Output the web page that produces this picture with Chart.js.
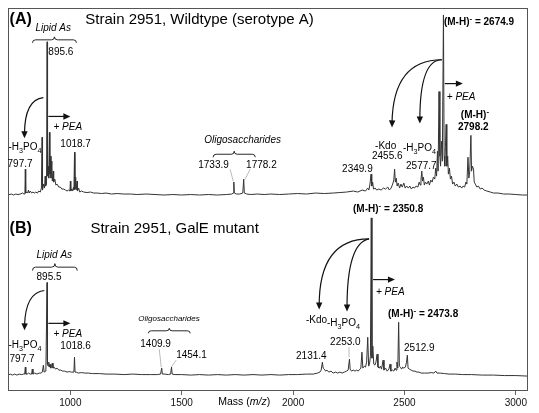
<!DOCTYPE html>
<html>
<head>
<meta charset="utf-8">
<script src="https://cdn.jsdelivr.net/npm/chart.js@4.4.1/dist/chart.umd.min.js"></script>
<style>
  html, body { margin: 0; padding: 0; background: #fff; }
</style>
</head>
<body>
<canvas id="spectro" width="539" height="413"></canvas>
<script>
// ===== datos leidos del espectro (masa m/z, intensidad relativa) =====
// panel A: wildtype
const massA = [720,735,745,755,765,775,785,792,796,797.7,799.5,805,808,812,815,820,826,832,838,845,852,858,865,870,873,875,880,884,887,889,893,895.6,897.5,901,903,906,908,911,913,917,919,923,925,930,935,940,948,955,962,970,978,985,992,998,1000,1002,1006,1010,1014,1016,1018.7,1020.5,1024,1026,1030,1032,1037,1042,1050,1060,1075,1090,1105,1120,1140,1160,1185,1210,1240,1270,1300,1340,1380,1420,1460,1500,1540,1580,1620,1660,1700,1725,1731,1733.9,1736,1745,1760,1774,1778.2,1781,1792,1810,1840,1870,1900,1940,1980,2020,2060,2100,2140,2180,2210,2240,2270,2290,2310,2325,2335,2340,2345,2349.9,2353,2357,2361,2368,2375,2385,2395,2405,2415,2425,2432,2440,2447,2452,2455.6,2459,2463,2467,2472,2478,2484,2490,2497,2503,2510,2517,2524,2531,2538,2545,2552,2560,2566,2571,2574,2577.7,2581,2585,2589,2594,2600,2607,2612,2618,2624,2630,2636,2640,2644,2648,2651,2655,2659,2662,2666,2670,2674.9,2678,2681,2684,2687,2690,2694,2697,2702,2706,2711,2716,2722,2728,2735,2742,2750,2757,2763,2770,2776,2780,2785,2789,2793,2798.2,2801,2805,2810,2813,2818,2825,2832,2840,2848,2858,2870,2885,2900,2920,2945,2970,3000,3030,3050];
const intA = [1,2,1,2,1.5,2,3,2,3,27,3,4,3,6,3,5,3,4,3,4,3,5,4,8,59,6,12,8,20,10,12,155,20,30,18,64,22,40,18,35,15,25,14,17,11,12,9,9,7,7,6,5,6,5,15,5,7,5,9,6,44,7,19,6,15,5,8,4,5,4,3.5,4,3,3,2.5,3,2,2.5,2,2,1.5,2,1.5,1,1.5,1,1.5,1,1.5,1,1.5,2,3,14,3,2,2,3,17,3,2,1.5,2,1.5,2,1.5,2,2.5,2,3,2.5,3,3.5,4,5,4,6,5,8,6,12,22,10,14,7,8,6,7,6,8,7,9,6,8,12,16,27,14,18,10,13,8,12,9,13,8,10,8,10,7,9,8,10,9,14,11,16,25,15,19,11,14,12,15,11,16,14,19,17,28,20,45,25,105,40,30,55,35,182,40,30,50,72,30,40,22,28,17,20,12,14,10,12,9,10,8,10,9,14,12,39,18,25,61,25,30,27,14,12,9,10,7,8,6,5,4,3,3,2,2,1.5,1,1];

// panel B: mutante GalE
const massB = [720,730,740,750,760,770,780,790,795,797.7,800,806,812,820,826,829,832,840,850,860,868,874,879,882,886,890,895.5,897,900,903,906,909,912,916,919,922,927,933,940,948,957,965,975,985,995,1005,1012,1016,1018.6,1021,1026,1035,1050,1065,1080,1100,1130,1160,1200,1240,1280,1320,1360,1390,1405,1409.9,1413,1425,1440,1450,1454.1,1457,1470,1500,1540,1580,1620,1660,1700,1740,1780,1820,1860,1900,1940,1980,2020,2060,2090,2110,2120,2126,2131.4,2135,2140,2146,2152,2160,2170,2180,2190,2200,2210,2220,2230,2240,2247,2253.0,2256,2262,2270,2278,2285,2292,2300,2304,2309,2313,2320,2325,2330,2335,2339,2343,2347,2350.8,2354,2358,2362,2367,2372,2377,2381,2387,2392,2397,2404,2408,2415,2422,2430,2435,2439,2446,2452,2458,2462,2466,2470,2473.8,2477,2482,2487,2492,2497,2504,2509,2512.9,2516,2522,2530,2538,2547,2556,2565,2575,2590,2605,2620,2632,2640,2646,2660,2680,2700,2730,2760,2800,2850,2900,2950,3000,3050];
const intB = [1,2,1,2,1,2,1.5,2,2,9,2,2,3,2,2,7,2,3,2,3,3,4,11,4,4,5,94,12,10,14,9,12,8,10,13,8,9,7,8,6,6,5,5,4,4.5,4,4,5,19,4,4,3,3.5,3,3,2.5,2.5,2,2,1.5,2,1.5,1.5,1.5,2,8,2,2,1.5,2,9,2,1.5,1.5,1,1.5,1,1.5,1,1.5,1,1.5,1,1.5,1,1.5,1.5,2,2,3,4,6,14,8,7,5,6,4,5,3,4,3,4,3,4,5,6,17,7,5,6,5,6,5,7,8,24,8,10,9,14,39,10,12,20,159,18,30,12,11,14,22,9,8,10,7,16,6,8,5,7,12,5,6,5,8,6,14,8,54,10,9,7,9,8,9,14,21,8,7,6,5,5,4,4,3,3,3,3.5,3,5,3,3,2.5,2,2,1.5,1.5,1,1,0.5,0.5,0];

const tickMasses = [1000, 1500, 2000, 2500, 3000];

// ===== anotaciones (posiciones en unidades de los ejes) =====
const FUENTE = '"Liberation Sans", Arial, Helvetica, sans-serif';

const textosA = [
    { m: 727, v: 173, p: ['(A)'], s: 16, w: 'bold' },
    { m: 1067, v: 173, p: ['Strain 2951, Wildtype (serotype A)'], s: 15 },
    { m: 843, v: 166, p: ['Lipid As'], s: 10, i: true },
    { m: 901, v: 142, p: ['895.6'], s: 10 },
    { m: 924, v: 66, p: ['+ PEA'], s: 10, i: true },
    { m: 722, v: 46, p: ['-H', ['3', 'sub'], 'PO', ['4', 'sub']], s: 10 },
    { m: 718, v: 29, p: ['797.7'], s: 10 },
    { m: 955, v: 49, p: ['1018.7'], s: 10 },
    { m: 1601, v: 53, p: ['Oligosaccharides'], s: 10, i: true },
    { m: 1574, v: 28, p: ['1733.9'], s: 10 },
    { m: 1789, v: 28, p: ['1778.2'], s: 10 },
    { m: 2220, v: 24, p: ['2349.9'], s: 10 },
    { m: 2368, v: 47, p: ['-Kdo'], s: 10 },
    { m: 2354, v: 37, p: ['2455.6'], s: 10 },
    { m: 2493, v: 45, p: ['-H', ['3', 'sub'], 'PO', ['4', 'sub']], s: 10 },
    { m: 2507, v: 27, p: ['2577.7'], s: 10 },
    { m: 2690, v: 97, p: ['+ PEA'], s: 10, i: true },
    { m: 2753, v: 78, p: ['(M-H)', ['-', 'sup']], s: 10, w: 'bold' },
    { m: 2740, v: 66, p: ['2798.2'], s: 10, w: 'bold' },
    { m: 2677, v: 172, p: ['(M-H)', ['-', 'sup'], ' = 2674.9'], s: 10, w: 'bold' }
];

const textosB = [
    { m: 727, v: 144, p: ['(B)'], s: 16, w: 'bold' },
    { m: 1090, v: 144, p: ['Strain 2951, GalE mutant'], s: 15 },
    { m: 848, v: 119, p: ['Lipid As'], s: 10, i: true },
    { m: 848, v: 97, p: ['895.5'], s: 10 },
    { m: 924, v: 39, p: ['+ PEA'], s: 10, i: true },
    { m: 722, v: 28, p: ['-H', ['3', 'sub'], 'PO', ['4', 'sub']], s: 10 },
    { m: 727, v: 14, p: ['797.7'], s: 10 },
    { m: 955, v: 27, p: ['1018.6'], s: 10 },
    { m: 1305, v: 55, p: ['Oligosaccharides'], s: 8, i: true },
    { m: 1314, v: 29, p: ['1409.9'], s: 10 },
    { m: 1475, v: 18, p: ['1454.1'], s: 10 },
    { m: 2013, v: 17, p: ['2131.4'], s: 10 },
    { m: 2166, v: 31, p: ['2253.0'], s: 10 },
    { m: 2058, v: 53, p: ['-Kdo'], s: 10 },
    { m: 2152, v: 50, p: ['-H', ['3', 'sub'], 'PO', ['4', 'sub']], s: 10 },
    { m: 2372, v: 82, p: ['+ PEA'], s: 10, i: true },
    { m: 2426, v: 59, p: ['(M-H)', ['-', 'sup'], ' = 2473.8'], s: 10, w: 'bold' },
    { m: 2498, v: 25, p: ['2512.9'], s: 10 },
    { m: 2269, v: 165, p: ['(M-H)', ['-', 'sup'], ' = 2350.8'], s: 10, w: 'bold' }
];

// flechas curvas: inicio, control, fin
const curvasA = [
    [879, 99, 794, 97, 794, 58],
    [2668, 137, 2448, 137, 2444, 69],
    [2668, 137, 2569, 137, 2569, 73]
];
const curvasB = [
    [883, 86, 798, 84, 794, 46],
    [2341, 138, 2117, 138, 2117, 67],
    [2341, 138, 2242, 134, 2242, 65]
];
// flechas rectas
const rectasA = [[901, 80, 1000, 80], [2681, 113, 2762, 113]];
const rectasB = [[901, 53, 1000, 53], [2359, 97, 2457, 97]];
// llaves: m1, m2, extremo, punta
const llavesA = [[830, 1027, 154, 160], [1641, 1830, 39, 45]];
const llavesB = [[830, 1031, 106, 113], [1350, 1538, 43, 48]];
// lineas guia grises
const guiasA = [[1717, 27, 1731, 15], [1807, 27, 1785, 17]];
const guiasB = [[1399, 27, 1408, 9], [1475, 16, 1453, 9], [2251, 29, 2251, 19]];

const textoRico = (ctx, x, y, partes, size, weight, italic) => {
    let cx = x;
    for (const p of partes) {
        const t = typeof p === 'string' ? p : p[0];
        const modo = typeof p === 'string' ? '' : p[1];
        let fs = size, dy = 0, cursiva = italic;
        if (modo === 'sub') { fs = size * 0.72; dy = size * 0.28; }
        if (modo === 'sup') { fs = size * 0.8; dy = -size * 0.42; }
        if (modo === 'i') cursiva = true;
        ctx.font = `${cursiva ? 'italic ' : ''}${weight || 'normal'} ${fs}px ${FUENTE}`;
        ctx.fillText(t, cx, y + dy);
        cx += ctx.measureText(t).width;
    }
};

const punta = (ctx, x0, y0, x1, y1) => {
    const ang = Math.atan2(y1 - y0, x1 - x0);
    const L = 7, W = 3.2;
    ctx.beginPath();
    ctx.moveTo(x1, y1);
    ctx.lineTo(x1 - L * Math.cos(ang) + W * Math.sin(ang), y1 - L * Math.sin(ang) - W * Math.cos(ang));
    ctx.lineTo(x1 - L * Math.cos(ang) - W * Math.sin(ang), y1 - L * Math.sin(ang) + W * Math.cos(ang));
    ctx.closePath();
    ctx.fill();
};

const anotaciones = {
    id: 'anotaciones',
    afterDatasetsDraw(chart) {
        const ctx = chart.ctx;
        const sx = chart.scales.x;
        const area = chart.chartArea;
        const paneles = [
            [chart.scales.yA, textosA, curvasA, rectasA, llavesA, guiasA],
            [chart.scales.yB, textosB, curvasB, rectasB, llavesB, guiasB]
        ];
        ctx.save();
        // marco
        ctx.strokeStyle = '#555';
        ctx.lineWidth = 1;
        ctx.strokeRect(Math.round(area.left) + 0.5, Math.round(area.top) + 0.5,
            Math.round(area.right - area.left), Math.round(area.bottom - area.top));

        for (const [sy, textos, curvas, rectas, llaves, guias] of paneles) {
            const X = m => sx.getPixelForValue(m);
            const Y = v => sy.getPixelForValue(v);

            ctx.strokeStyle = '#aaa';
            ctx.lineWidth = 0.8;
            guias.forEach(g => {
                ctx.beginPath();
                ctx.moveTo(X(g[0]), Y(g[1]));
                ctx.lineTo(X(g[2]), Y(g[3]));
                ctx.stroke();
            });

            ctx.strokeStyle = '#111';
            ctx.fillStyle = '#111';
            ctx.lineWidth = 1.2;
            curvas.forEach(c => {
                ctx.beginPath();
                ctx.moveTo(X(c[0]), Y(c[1]));
                ctx.quadraticCurveTo(X(c[2]), Y(c[3]), X(c[4]), Y(c[5]) - 4);
                ctx.stroke();
                punta(ctx, X(c[2]), Y(c[3]), X(c[4]), Y(c[5]));
            });
            rectas.forEach(r => {
                ctx.beginPath();
                ctx.moveTo(X(r[0]), Y(r[1]));
                ctx.lineTo(X(r[2]) - 4, Y(r[3]));
                ctx.stroke();
                punta(ctx, X(r[0]), Y(r[1]), X(r[2]), Y(r[3]));
            });

            ctx.lineWidth = 0.9;
            llaves.forEach(b => {
                const x1 = X(b[0]), x2 = X(b[1]), ye = Y(b[2]), yt = Y(b[3]);
                const xm = (x1 + x2) / 2, ym = (ye + yt) / 2;
                ctx.beginPath();
                ctx.moveTo(x1, ye);
                ctx.quadraticCurveTo(x1, ym, x1 + 3, ym);
                ctx.lineTo(xm - 3, ym);
                ctx.quadraticCurveTo(xm, ym, xm, yt);
                ctx.quadraticCurveTo(xm, ym, xm + 3, ym);
                ctx.lineTo(x2 - 3, ym);
                ctx.quadraticCurveTo(x2, ym, x2, ye);
                ctx.stroke();
            });

            ctx.fillStyle = '#000';
            ctx.textAlign = 'left';
            ctx.textBaseline = 'alphabetic';
            textos.forEach(t => textoRico(ctx, X(t.m), Y(t.v), t.p, t.s, t.w, t.i));
        }

        // titulo del eje x
        textoRico(ctx, sx.getPixelForValue(1664), sx.top + 15, ['Mass (', ['m/z', 'i'], ')'], 10.5);
        ctx.restore();
    }
};

const puntos = (masas, ints) => masas.map((m, i) => ({ x: m, y: ints[i] }));

const chart = new Chart(document.getElementById('spectro'), {
    type: 'line',
    data: {
        datasets: [{
            label: 'Wildtype',
            data: puntos(massA, intA),
            yAxisID: 'yA',
            borderColor: '#333',
            borderWidth: 1,
            pointRadius: 0,
            tension: 0
        }, {
            label: 'GalE mutant',
            data: puntos(massB, intB),
            yAxisID: 'yB',
            borderColor: '#333',
            borderWidth: 1,
            pointRadius: 0,
            tension: 0
        }]
    },
    options: {
        responsive: false,
        animation: false,
        devicePixelRatio: 1,
        layout: { padding: { left: 8, right: 12, top: 8, bottom: 2 } },
        plugins: { legend: { display: false }, tooltip: { enabled: false } },
        scales: {
            x: {
                type: 'linear',
                position: 'bottom',
                min: 720,
                max: 3050,
                afterBuildTicks: (s) => { s.ticks = tickMasses.map(v => ({ value: v })); },
                ticks: {
                    callback: (v) => String(v),
                    color: '#111',
                    font: { family: FUENTE, size: 10 },
                    padding: 2,
                    maxRotation: 0,
                    autoSkip: false
                },
                grid: { drawOnChartArea: false, tickLength: 5, color: '#666' },
                border: { display: false }
            },
            // los ejes izquierdos se apilan en orden inverso: B primero deja A arriba
            yB: {
                type: 'linear',
                position: 'left',
                stack: 'espectro',
                stackWeight: 1,
                min: -14,
                max: 178,
                display: false
            },
            yA: {
                type: 'linear',
                position: 'left',
                stack: 'espectro',
                stackWeight: 1,
                min: -3,
                max: 189,
                display: false
            }
        }
    },
    plugins: [anotaciones]
});
</script>
</body>
</html>
